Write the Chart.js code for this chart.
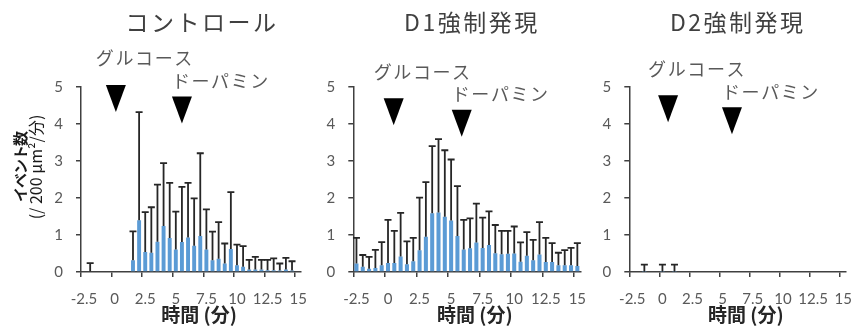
<!DOCTYPE html>
<html>
<head>
<meta charset="utf-8">
<script src="https://cdn.jsdelivr.net/npm/chart.js@4.4.1/dist/chart.umd.min.js"></script>
<style>
  html, body { margin: 0; padding: 0; background: #ffffff; }
  #wrap { position: relative; width: 865px; height: 329px; overflow: hidden; }
  #wrap canvas { position: absolute; top: 0; }
</style>
</head>
<body>
<div id="wrap">
  <canvas id="c1" width="320" height="329" style="left:0px"></canvas>
  <canvas id="c2" width="280" height="329" style="left:320px"></canvas>
  <canvas id="c3" width="265" height="329" style="left:600px"></canvas>
</div>
<script>
// 0.5-minute bins, labelled by bin start (min)
const times = ['-2.5','-2','-1.5','-1','-0.5','0','0.5','1','1.5','2','2.5','3','3.5','4','4.5',
               '5','5.5','6','6.5','7','7.5','8','8.5','9','9.5','10','10.5','11','11.5','12',
               '12.5','13','13.5','14','14.5','15'];
const shownTicks = ['-2.5','0','2.5','5','7.5','10','12.5','15'];

// Control: mean events and upper error
const controlMean = [null, 0.02, null, null, null, null, null, null,
  0.32, 1.40, 0.54, 0.52, 0.82, 1.24, 0.92, 0.61, 0.81, 0.93, 0.71, 0.97, 0.61, 0.32, 0.36,
  0.23, 0.62, 0.18, 0.14, 0.07, 0.07, 0.07, 0.05, 0.05, 0.04, 0.07, 0.04, null];
const controlErr = [null, 0.22, null, null, null, null, null, null,
  0.78, 2.92, 1.08, 1.23, 1.54, 1.70, 1.49, 1.02, 1.49, 1.48, 1.28, 2.24, 1.08, 0.77, 0.99,
  0.54, 1.54, 0.56, 0.56, 0.26, 0.34, 0.26, 0.28, 0.32, 0.19, 0.31, 0.25, null];

// D1 overexpression
const d1Mean = [0.23, 0.14, 0.09, 0.11, 0.18, 0.24, 0.24, 0.42, 0.21, 0.29, 0.59, 0.95,
  1.59, 1.61, 1.49, 1.39, 0.97, 0.61, 0.64, 0.80, 0.65, 0.73, 0.51, 0.48, 0.49, 0.50,
  0.28, 0.44, 0.32, 0.47, 0.27, 0.27, 0.18, 0.18, 0.18, 0.16];
const d1Err = [0.69, 0.32, 0.32, 0.49, 0.63, 1.17, 0.87, 1.18, 0.62, 0.63, 1.42, 1.48,
  1.81, 1.98, 1.80, 1.65, 1.35, 0.80, 0.81, 1.05, 0.82, 0.91, 0.76, 0.63, 0.62, 0.73,
  0.52, 0.64, 0.55, 0.88, 0.65, 0.51, 0.34, 0.41, 0.47, 0.62];

// D2 overexpression
const d2Mean = [null, null, 0.01, null, null, 0.01, null, 0.01, null, null, null, null,
  null, null, null, null, null, null, null, null, null, null, null, null, null, null,
  null, null, null, null, null, null, null, null, null, null];
const d2Err = [null, null, 0.19, null, null, 0.19, null, 0.19, null, null, null, null,
  null, null, null, null, null, null, null, null, null, null, null, null, null, null,
  null, null, null, null, null, null, null, null, null, null];

// Application markers (time in min, height on event axis)
const markerNames = ['グルコース', 'ドーパミン'];
const controlMarkTime = [0.1, 5.5];
const controlMarkLevel = [4.69, 4.38];
const d1MarkTime = [0.45, 5.84];
const d1MarkLevel = [4.33, 4.02];
const d2MarkTime = [0.47, 5.77];
const d2MarkLevel = [4.41, 4.09];

const panelTitles = ['コントロール', 'D1強制発現', 'D2強制発現'];
const xTitle = '時間 (分)';
const yTitle = ['イベント数', '(/ 200 μm²/分)'];

const JP = '"Noto Sans CJK JP", "Noto Sans", sans-serif';
const NUM = 'Lato, "Liberation Sans", sans-serif';
const AXIS = '#404040';
const BAR = '#5B9BD5';

const errorBars = {
  id: 'errorBars',
  afterDatasetsDraw(chart, args, opts) {
    const ctx = chart.ctx;
    const meta = chart.getDatasetMeta(0);
    const ys = chart.scales.y;
    ctx.save();
    ctx.strokeStyle = '#262626';
    ctx.lineWidth = 1.8;
    meta.data.forEach((el, i) => {
      const v = chart.data.datasets[0].data[i];
      const e = opts.err[i];
      if (v == null || e == null) return;
      const top = ys.getPixelForValue(v + e);
      ctx.beginPath();
      ctx.moveTo(el.x, el.y);
      ctx.lineTo(el.x, top);
      ctx.moveTo(el.x - 3.5, top);
      ctx.lineTo(el.x + 3.5, top);
      ctx.stroke();
    });
    ctx.restore();
  }
};

// time (min) -> fractional category position on the bin axis
function timeToBin(t) {
  return (t - Number(times[0])) / (Number(times[1]) - Number(times[0]));
}

const markers = {
  id: 'markers',
  afterDatasetsDraw(chart, args, opts) {
    const ctx = chart.ctx;
    const xs = chart.scales.x, ys = chart.scales.y;
    ctx.save();
    opts.time.forEach((t, i) => {
      const px = xs.getPixelForValue(timeToBin(t));
      const py = ys.getPixelForValue(opts.level[i]);
      // downward triangle
      ctx.fillStyle = '#000';
      ctx.beginPath();
      ctx.moveTo(px - 10, py - 13.5);
      ctx.lineTo(px + 10, py - 13.5);
      ctx.lineTo(px, py + 13.5);
      ctx.closePath();
      ctx.fill();
      // label
      ctx.fillStyle = '#595959';
      ctx.font = '18px ' + JP;
      ctx.letterSpacing = '1.6px';
      ctx.textAlign = 'left';
      ctx.textBaseline = 'middle';
      const off = i === 0 ? [-20, -40] : [-10, -29];
      ctx.fillText(markerNames[i], px + off[0], py + off[1]);
      ctx.letterSpacing = '0px';
    });
    ctx.restore();
  }
};

const panelText = {
  id: 'panelText',
  afterDraw(chart, args, opts) {
    const ctx = chart.ctx;
    const a = chart.chartArea;
    const cx = (a.left + a.right) / 2;
    ctx.save();
    // panel title
    ctx.fillStyle = '#404040';
    ctx.font = '23px ' + JP;
    ctx.letterSpacing = '2.5px';
    ctx.textAlign = 'center';
    ctx.textBaseline = 'middle';
    ctx.fillText(opts.title, cx + opts.titleShift, 22);
    // x axis title
    ctx.letterSpacing = '0px';
    ctx.fillStyle = '#262626';
    ctx.font = 'bold 19px ' + JP;
    ctx.fillText(xTitle, cx + 8, 315);
    // y axis title
    if (opts.yTitle) {
      ctx.textAlign = 'center';
      ctx.fillStyle = '#1a1a1a';
      ctx.translate(20, 167);
      ctx.rotate(-Math.PI / 2);
      ctx.font = 'bold 15px ' + JP;
      ctx.letterSpacing = '-1px';
      ctx.fillText(yTitle[0], 0, 0);
      ctx.letterSpacing = '0px';
      ctx.font = '16px ' + JP;
      ctx.fillText(yTitle[1], 0, 16);
    }
    ctx.restore();
  }
};

function makePanel(id, mean, err, markT, markL, title, plotLeft, plotRight, titleShift, withY) {
  const canvas = document.getElementById(id);
  const W = canvas.width;
  return new Chart(canvas, {
    type: 'bar',
    data: {
      labels: times,
      datasets: [{
        data: mean,
        backgroundColor: BAR,
        borderWidth: 0,
        categoryPercentage: 1.0,
        barPercentage: 0.64
      }]
    },
    options: {
      responsive: false,
      animation: false,
      events: [],
      layout: { padding: { left: 0, right: W - plotRight, top: 87, bottom: 0 } },
      plugins: {
        legend: { display: false },
        tooltip: { enabled: false },
        errorBars: { err: err },
        markers: { time: markT, level: markL },
        panelText: { title: title, titleShift: titleShift, yTitle: withY }
      },
      scales: {
        x: {
          type: 'category',
          offset: true,
          afterFit: (s) => { s.height = 57; },
          grid: {
            offset: true,
            drawOnChartArea: false,
            drawTicks: true,
            tickLength: 5,
            lineWidth: 1.5,
            color: (c) => (c.index != null && shownTicks.includes(times[c.index])) ? AXIS : 'rgba(0,0,0,0)'
          },
          border: { display: true, color: AXIS, width: 1.5 },
          ticks: {
            autoSkip: false,
            maxRotation: 0,
            padding: 13,
            color: '#595959',
            font: { family: NUM, size: 15 },
            callback: (v, i) => shownTicks.includes(times[i]) ? times[i] : ''
          }
        },
        y: {
          min: 0,
          max: 5,
          afterFit: (s) => { s.width = plotLeft; },
          grid: { drawOnChartArea: false, tickLength: 5, lineWidth: 1.5, color: AXIS },
          border: { display: true, color: AXIS, width: 1.5 },
          ticks: {
            stepSize: 1,
            padding: 13,
            color: '#595959',
            font: { family: NUM, size: 15 }
          }
        }
      }
    },
    plugins: [errorBars, markers, panelText]
  });
}

makePanel('c1', controlMean, controlErr, controlMarkTime, controlMarkLevel, panelTitles[0], 81, 308.3, 11, true);
makePanel('c2', d1Mean, d1Err, d1MarkTime, d1MarkLevel, panelTitles[1], 33.3, 260.5, 5, false);
makePanel('c3', d2Mean, d2Err, d2MarkTime, d2MarkLevel, panelTitles[2], 29.3, 256.8, 0, false);
</script>
</body>
</html>
